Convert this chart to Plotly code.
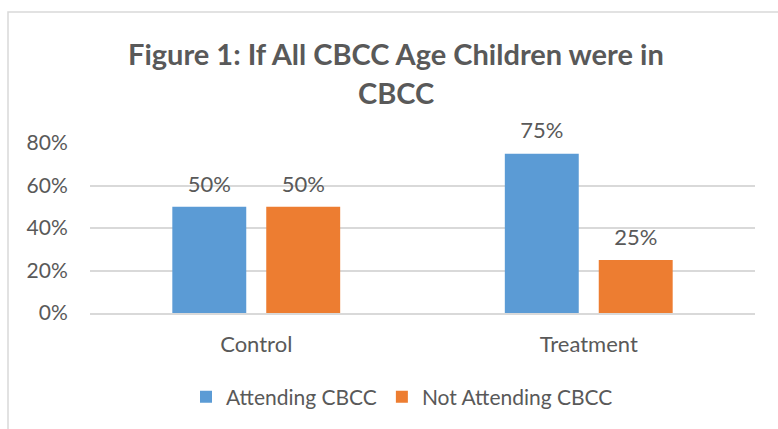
import plotly.graph_objects as go

categories = ["Control", "Treatment"]
attending = [0.50, 0.75]
not_attending = [0.50, 0.25]
series_names = ["Attending CBCC", "Not Attending CBCC"]
title_lines = ["Figure 1: If All CBCC Age Children were in", "CBCC"]

W, H = 778, 429
ml, mr, mt, mb = 90, 23, 143, 116
pw, ph = W - ml - mr, H - mt - mb

TXT = "#595959"
FONT = "Lato"
GAP = 0.435

fig = go.Figure()
for i, (name, vals, col) in enumerate([(series_names[0], attending, "#5B9BD5"),
                                       (series_names[1], not_attending, "#ED7D31")]):
    fig.add_trace(go.Bar(
        x=categories, y=vals, name=name, marker_color=col,
        marker_line_width=0,
    ))
for i, vals in enumerate([attending, not_attending]):
    fig.add_trace(go.Scatter(
        x=categories, y=vals, mode="markers+text", showlegend=False,
        marker=dict(size=14, opacity=0),
        text=[f"{v:.0%}" for v in vals], textposition="top center",
        textfont=dict(family=FONT, size=22, color=TXT),
        cliponaxis=False, hoverinfo="skip",
    ))

def px_x(p):
    return (p - ml) / pw

def px_y(p):
    return (H - mb - p) / ph

fig.update_layout(
    width=W, height=H,
    margin=dict(l=ml, r=mr, t=mt, b=mb),
    paper_bgcolor="white", plot_bgcolor="white",
    barmode="group", bargap=GAP, bargroupgap=0.213,
    scattermode="group", scattergap=GAP,
    font=dict(family=FONT, color=TXT, size=21),
    showlegend=True,
    legend=dict(orientation="h", x=px_x(402), xanchor="center",
                y=px_y(397), yanchor="middle",
                font=dict(family=FONT, size=21, color=TXT),
                itemwidth=30, tracegroupgap=0),
    yaxis=dict(range=[0, 0.8], tickvals=[0, 0.2, 0.4, 0.6, 0.8],
               tickformat=".0%", showgrid=True, gridcolor="#D9D9D9",
               gridwidth=1.5, zeroline=False, showline=False,
               ticks="outside", ticklen=17, tickcolor="rgba(0,0,0,0)",
               tickfont=dict(family=FONT, size=21, color=TXT)),
    xaxis=dict(showline=True, linecolor="#D9D9D9", linewidth=1.5,
               ticks="outside", ticklen=11, tickcolor="rgba(0,0,0,0)",
               tickfont=dict(family=FONT, size=22, color=TXT)),
    shapes=[dict(type="rect", xref="paper", yref="paper",
                 x0=px_x(8), x1=px_x(790), y0=px_y(445), y1=px_y(12),
                 line=dict(color="#D9D9D9", width=1.5), fillcolor="rgba(0,0,0,0)",
                 layer="below")],
    annotations=[
        dict(text=f"<b>{title_lines[0]}</b>", xref="paper", yref="paper",
             x=px_x(396), y=px_y(53), xanchor="center", yanchor="middle",
             showarrow=False, font=dict(family=FONT, size=29, color=TXT)),
        dict(text=f"<b>{title_lines[1]}</b>", xref="paper", yref="paper",
             x=px_x(396), y=px_y(92), xanchor="center", yanchor="middle",
             showarrow=False, font=dict(family=FONT, size=29, color=TXT)),
    ],
)

fig.write_html("out.html")
